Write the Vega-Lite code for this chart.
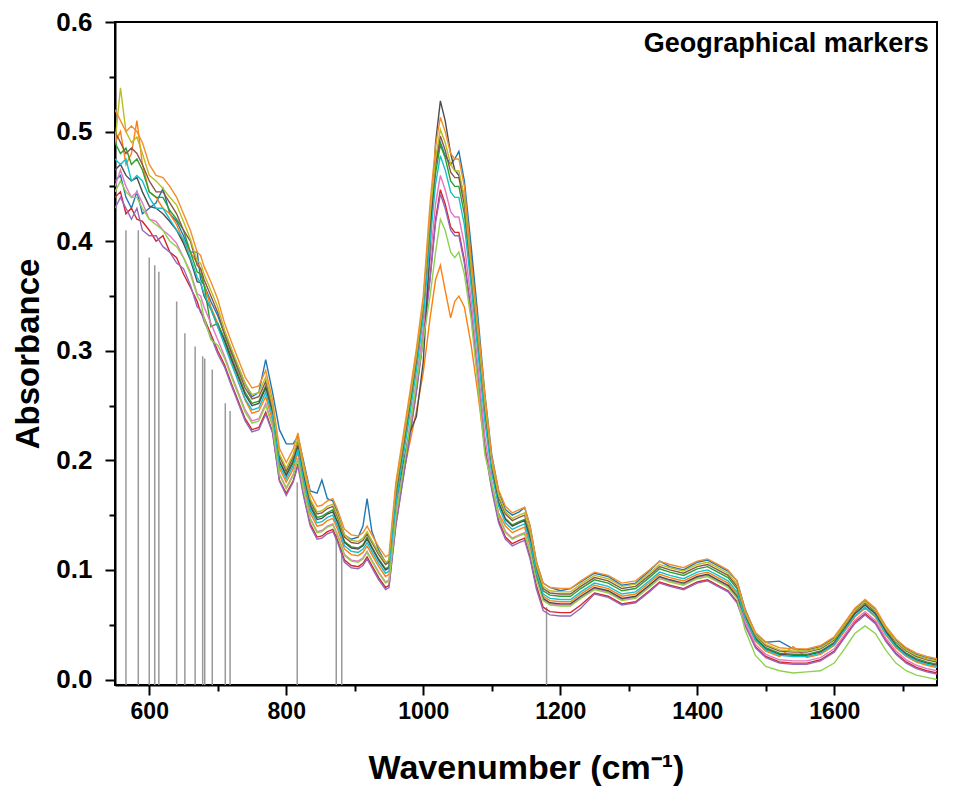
{
"$schema": "https://vega.github.io/schema/vega-lite/v6.json",
"width": 822, "height": 663,
"autosize": {"type": "none"},
"padding": {"left": 115, "top": 22, "right": 16, "bottom": 117},
"background": "white",
"config": {"view": {"stroke": "black", "strokeWidth": 2}, "font": "Liberation Sans"},
"datasets": {
"markers": [
{"wn":566,"top":0.41},{"wn":584,"top":0.41},{"wn":600,"top":0.385},{"wn":608,"top":0.378},{"wn":614,"top":0.372},{"wn":640,"top":0.345},{"wn":652,"top":0.316},{"wn":667,"top":0.304},{"wn":678,"top":0.295},{"wn":681,"top":0.293},{"wn":692,"top":0.283},{"wn":711,"top":0.252},{"wn":718,"top":0.245},{"wn":816,"top":0.18},{"wn":873,"top":0.133},{"wn":881,"top":0.123},{"wn":1180,"top":0.066}
],
"spectra": [
{"x":550,"A":0.455,"B":0.49,"C":0.49,"D":0.44,"E":0.43,"F":0.5,"G":0.45,"H":0.465,"I":0.49,"J":0.475,"K":0.445,"L":0.52},
{"x":558,"A":0.46,"B":0.5,"C":0.48,"D":0.445,"E":0.44,"F":0.49,"G":0.465,"H":0.47,"I":0.54,"J":0.47,"K":0.455,"L":0.51},
{"x":566,"A":0.44,"B":0.47,"C":0.485,"D":0.425,"E":0.43,"F":0.48,"G":0.45,"H":0.46,"I":0.5,"J":0.475,"K":0.445,"L":0.5},
{"x":574,"A":0.43,"B":0.48,"C":0.47,"D":0.43,"E":0.42,"F":0.485,"G":0.44,"H":0.455,"I":0.49,"J":0.455,"K":0.44,"L":0.505},
{"x":582,"A":0.445,"B":0.51,"C":0.475,"D":0.42,"E":0.43,"F":0.48,"G":0.445,"H":0.458,"I":0.495,"J":0.46,"K":0.44,"L":0.5},
{"x":590,"A":0.425,"B":0.47,"C":0.465,"D":0.418,"E":0.41,"F":0.47,"G":0.435,"H":0.445,"I":0.48,"J":0.455,"K":0.43,"L":0.49},
{"x":600,"A":0.43,"B":0.445,"C":0.445,"D":0.41,"E":0.405,"F":0.455,"G":0.42,"H":0.432,"I":0.46,"J":0.44,"K":0.42,"L":0.47},
{"x":610,"A":0.435,"B":0.44,"C":0.44,"D":0.4,"E":0.405,"F":0.445,"G":0.418,"H":0.43,"I":0.455,"J":0.43,"K":0.415,"L":0.46},
{"x":620,"A":0.448,"B":0.43,"C":0.44,"D":0.405,"E":0.395,"F":0.445,"G":0.41,"H":0.425,"I":0.448,"J":0.43,"K":0.41,"L":0.458},
{"x":630,"A":0.425,"B":0.425,"C":0.428,"D":0.39,"E":0.39,"F":0.435,"G":0.405,"H":0.418,"I":0.44,"J":0.42,"K":0.4,"L":0.45},
{"x":640,"A":0.418,"B":0.415,"C":0.42,"D":0.385,"E":0.38,"F":0.425,"G":0.398,"H":0.41,"I":0.433,"J":0.41,"K":0.395,"L":0.44},
{"x":650,"A":0.405,"B":0.4,"C":0.41,"D":0.37,"E":0.375,"F":0.41,"G":0.385,"H":0.398,"I":0.418,"J":0.402,"K":0.385,"L":0.425},
{"x":660,"A":0.39,"B":0.39,"C":0.39,"D":0.358,"E":0.36,"F":0.4,"G":0.372,"H":0.383,"I":0.402,"J":0.385,"K":0.37,"L":0.41},
{"x":670,"A":0.39,"B":0.38,"C":0.372,"D":0.345,"E":0.34,"F":0.378,"G":0.352,"H":0.363,"I":0.382,"J":0.367,"K":0.35,"L":0.39},
{"x":675,"A":0.365,"B":0.375,"C":0.37,"D":0.335,"E":0.337,"F":0.375,"G":0.35,"H":0.362,"I":0.38,"J":0.362,"K":0.345,"L":0.387},
{"x":680,"A":0.36,"B":0.36,"C":0.36,"D":0.33,"E":0.327,"F":0.365,"G":0.34,"H":0.35,"I":0.37,"J":0.352,"K":0.33,"L":0.377},
{"x":690,"A":0.345,"B":0.34,"C":0.322,"D":0.315,"E":0.313,"F":0.35,"G":0.325,"H":0.338,"I":0.355,"J":0.338,"K":0.31,"L":0.363},
{"x":700,"A":0.332,"B":0.325,"C":0.325,"D":0.3,"E":0.297,"F":0.335,"G":0.31,"H":0.322,"I":0.34,"J":0.322,"K":0.305,"L":0.347},
{"x":710,"A":0.315,"B":0.308,"C":0.311,"D":0.287,"E":0.285,"F":0.315,"G":0.295,"H":0.309,"I":0.319,"J":0.305,"K":0.293,"L":0.325},
{"x":720,"A":0.3,"B":0.29,"C":0.294,"D":0.27,"E":0.268,"F":0.298,"G":0.278,"H":0.292,"I":0.302,"J":0.288,"K":0.276,"L":0.308},
{"x":730,"A":0.285,"B":0.272,"C":0.278,"D":0.254,"E":0.252,"F":0.282,"G":0.262,"H":0.276,"I":0.286,"J":0.272,"K":0.26,"L":0.292},
{"x":740,"A":0.27,"B":0.255,"C":0.262,"D":0.238,"E":0.236,"F":0.266,"G":0.246,"H":0.26,"I":0.27,"J":0.256,"K":0.244,"L":0.276},
{"x":750,"A":0.258,"B":0.243,"C":0.252,"D":0.228,"E":0.226,"F":0.256,"G":0.236,"H":0.25,"I":0.26,"J":0.246,"K":0.234,"L":0.266},
{"x":760,"A":0.262,"B":0.245,"C":0.254,"D":0.23,"E":0.228,"F":0.258,"G":0.238,"H":0.252,"I":0.262,"J":0.248,"K":0.236,"L":0.268},
{"x":770,"A":0.292,"B":0.258,"C":0.268,"D":0.244,"E":0.242,"F":0.272,"G":0.252,"H":0.266,"I":0.276,"J":0.262,"K":0.25,"L":0.282},
{"x":780,"A":0.262,"B":0.236,"C":0.245,"D":0.226,"E":0.225,"F":0.248,"G":0.232,"H":0.243,"I":0.25,"J":0.24,"K":0.231,"L":0.255},
{"x":790,"A":0.228,"B":0.193,"C":0.2,"D":0.182,"E":0.181,"F":0.204,"G":0.188,"H":0.199,"I":0.206,"J":0.196,"K":0.187,"L":0.211},
{"x":800,"A":0.215,"B":0.18,"C":0.187,"D":0.17,"E":0.168,"F":0.19,"G":0.175,"H":0.186,"I":0.193,"J":0.183,"K":0.174,"L":0.198},
{"x":810,"A":0.215,"B":0.192,"C":0.2,"D":0.181,"E":0.18,"F":0.203,"G":0.187,"H":0.198,"I":0.205,"J":0.195,"K":0.186,"L":0.21},
{"x":817,"A":0.222,"B":0.207,"C":0.214,"D":0.197,"E":0.195,"F":0.218,"G":0.202,"H":0.213,"I":0.22,"J":0.21,"K":0.201,"L":0.225},
{"x":825,"A":0.2,"B":0.18,"C":0.187,"D":0.17,"E":0.168,"F":0.19,"G":0.175,"H":0.186,"I":0.193,"J":0.183,"K":0.174,"L":0.198},
{"x":835,"A":0.172,"B":0.152,"C":0.16,"D":0.142,"E":0.14,"F":0.163,"G":0.147,"H":0.158,"I":0.165,"J":0.155,"K":0.146,"L":0.17},
{"x":845,"A":0.17,"B":0.14,"C":0.148,"D":0.13,"E":0.128,"F":0.151,"G":0.135,"H":0.146,"I":0.153,"J":0.143,"K":0.134,"L":0.158},
{"x":852,"A":0.182,"B":0.141,"C":0.149,"D":0.131,"E":0.129,"F":0.152,"G":0.136,"H":0.147,"I":0.154,"J":0.144,"K":0.135,"L":0.159},
{"x":860,"A":0.165,"B":0.145,"C":0.152,"D":0.135,"E":0.133,"F":0.156,"G":0.14,"H":0.151,"I":0.158,"J":0.148,"K":0.139,"L":0.163},
{"x":868,"A":0.163,"B":0.147,"C":0.155,"D":0.137,"E":0.135,"F":0.158,"G":0.142,"H":0.153,"I":0.16,"J":0.15,"K":0.141,"L":0.165},
{"x":875,"A":0.152,"B":0.137,"C":0.144,"D":0.127,"E":0.125,"F":0.148,"G":0.132,"H":0.143,"I":0.15,"J":0.14,"K":0.131,"L":0.155},
{"x":885,"A":0.132,"B":0.119,"C":0.126,"D":0.109,"E":0.107,"F":0.13,"G":0.114,"H":0.125,"I":0.132,"J":0.122,"K":0.113,"L":0.137},
{"x":895,"A":0.128,"B":0.114,"C":0.121,"D":0.104,"E":0.102,"F":0.125,"G":0.109,"H":0.12,"I":0.127,"J":0.117,"K":0.108,"L":0.132},
{"x":905,"A":0.13,"B":0.113,"C":0.12,"D":0.103,"E":0.101,"F":0.124,"G":0.108,"H":0.119,"I":0.126,"J":0.116,"K":0.107,"L":0.131},
{"x":912,"A":0.14,"B":0.116,"C":0.123,"D":0.106,"E":0.104,"F":0.127,"G":0.111,"H":0.122,"I":0.129,"J":0.119,"K":0.11,"L":0.134},
{"x":918,"A":0.165,"B":0.122,"C":0.13,"D":0.112,"E":0.11,"F":0.133,"G":0.117,"H":0.128,"I":0.135,"J":0.125,"K":0.116,"L":0.14},
{"x":925,"A":0.135,"B":0.114,"C":0.121,"D":0.104,"E":0.102,"F":0.125,"G":0.109,"H":0.12,"I":0.127,"J":0.117,"K":0.108,"L":0.132},
{"x":935,"A":0.118,"B":0.103,"C":0.11,"D":0.093,"E":0.091,"F":0.114,"G":0.098,"H":0.109,"I":0.116,"J":0.106,"K":0.097,"L":0.121},
{"x":945,"A":0.107,"B":0.094,"C":0.101,"D":0.084,"E":0.082,"F":0.105,"G":0.089,"H":0.1,"I":0.107,"J":0.097,"K":0.088,"L":0.112},
{"x":950,"A":0.108,"B":0.096,"C":0.103,"D":0.086,"E":0.084,"F":0.107,"G":0.091,"H":0.102,"I":0.109,"J":0.099,"K":0.09,"L":0.114},
{"x":960,"A":0.175,"B":0.15,"C":0.166,"D":0.142,"E":0.14,"F":0.17,"G":0.15,"H":0.16,"I":0.174,"J":0.16,"K":0.148,"L":0.18},
{"x":970,"A":0.215,"B":0.185,"C":0.206,"D":0.182,"E":0.18,"F":0.21,"G":0.19,"H":0.195,"I":0.214,"J":0.2,"K":0.188,"L":0.22},
{"x":980,"A":0.255,"B":0.215,"C":0.246,"D":0.222,"E":0.22,"F":0.25,"G":0.23,"H":0.225,"I":0.254,"J":0.24,"K":0.228,"L":0.26},
{"x":990,"A":0.297,"B":0.245,"C":0.288,"D":0.264,"E":0.262,"F":0.292,"G":0.272,"H":0.24,"I":0.296,"J":0.282,"K":0.27,"L":0.302},
{"x":1000,"A":0.345,"B":0.28,"C":0.336,"D":0.312,"E":0.31,"F":0.34,"G":0.32,"H":0.29,"I":0.344,"J":0.33,"K":0.31,"L":0.35},
{"x":1010,"A":0.42,"B":0.33,"C":0.41,"D":0.368,"E":0.365,"F":0.418,"G":0.382,"H":0.395,"I":0.424,"J":0.4,"K":0.35,"L":0.435},
{"x":1018,"A":0.47,"B":0.365,"C":0.462,"D":0.42,"E":0.417,"F":0.47,"G":0.434,"H":0.49,"I":0.476,"J":0.452,"K":0.39,"L":0.487},
{"x":1025,"A":0.49,"B":0.378,"C":0.488,"D":0.447,"E":0.443,"F":0.496,"G":0.46,"H":0.528,"I":0.502,"J":0.478,"K":0.42,"L":0.513},
{"x":1032,"A":0.478,"B":0.355,"C":0.476,"D":0.434,"E":0.43,"F":0.483,"G":0.447,"H":0.51,"I":0.49,"J":0.465,"K":0.41,"L":0.5},
{"x":1040,"A":0.47,"B":0.33,"C":0.455,"D":0.413,"E":0.41,"F":0.463,"G":0.427,"H":0.48,"I":0.47,"J":0.445,"K":0.39,"L":0.48},
{"x":1046,"A":0.475,"B":0.345,"C":0.45,"D":0.408,"E":0.405,"F":0.458,"G":0.422,"H":0.465,"I":0.464,"J":0.44,"K":0.385,"L":0.475},
{"x":1052,"A":0.482,"B":0.35,"C":0.45,"D":0.408,"E":0.405,"F":0.458,"G":0.422,"H":0.46,"I":0.464,"J":0.44,"K":0.39,"L":0.475},
{"x":1060,"A":0.455,"B":0.34,"C":0.425,"D":0.383,"E":0.38,"F":0.433,"G":0.397,"H":0.44,"I":0.44,"J":0.415,"K":0.37,"L":0.45},
{"x":1070,"A":0.395,"B":0.305,"C":0.365,"D":0.335,"E":0.333,"F":0.371,"G":0.345,"H":0.385,"I":0.375,"J":0.358,"K":0.328,"L":0.383},
{"x":1080,"A":0.33,"B":0.26,"C":0.305,"D":0.275,"E":0.273,"F":0.311,"G":0.285,"H":0.32,"I":0.315,"J":0.298,"K":0.268,"L":0.323},
{"x":1090,"A":0.26,"B":0.21,"C":0.243,"D":0.212,"E":0.21,"F":0.248,"G":0.222,"H":0.255,"I":0.252,"J":0.235,"K":0.205,"L":0.26},
{"x":1100,"A":0.205,"B":0.178,"C":0.192,"D":0.175,"E":0.173,"F":0.196,"G":0.18,"H":0.191,"I":0.198,"J":0.188,"K":0.179,"L":0.203},
{"x":1110,"A":0.172,"B":0.152,"C":0.162,"D":0.145,"E":0.143,"F":0.166,"G":0.15,"H":0.161,"I":0.168,"J":0.158,"K":0.149,"L":0.173},
{"x":1120,"A":0.155,"B":0.14,"C":0.147,"D":0.13,"E":0.128,"F":0.151,"G":0.135,"H":0.146,"I":0.153,"J":0.143,"K":0.134,"L":0.158},
{"x":1130,"A":0.15,"B":0.134,"C":0.141,"D":0.124,"E":0.122,"F":0.145,"G":0.129,"H":0.14,"I":0.147,"J":0.137,"K":0.128,"L":0.152},
{"x":1140,"A":0.153,"B":0.137,"C":0.144,"D":0.127,"E":0.125,"F":0.148,"G":0.132,"H":0.143,"I":0.15,"J":0.14,"K":0.131,"L":0.155},
{"x":1148,"A":0.157,"B":0.139,"C":0.146,"D":0.129,"E":0.127,"F":0.15,"G":0.134,"H":0.145,"I":0.152,"J":0.142,"K":0.133,"L":0.157},
{"x":1156,"A":0.14,"B":0.122,"C":0.13,"D":0.112,"E":0.11,"F":0.133,"G":0.117,"H":0.128,"I":0.135,"J":0.125,"K":0.116,"L":0.14},
{"x":1165,"A":0.108,"B":0.096,"C":0.101,"D":0.086,"E":0.083,"F":0.103,"G":0.093,"H":0.094,"I":0.105,"J":0.098,"K":0.092,"L":0.108},
{"x":1175,"A":0.088,"B":0.076,"C":0.081,"D":0.066,"E":0.063,"F":0.083,"G":0.073,"H":0.074,"I":0.085,"J":0.078,"K":0.072,"L":0.088},
{"x":1185,"A":0.084,"B":0.072,"C":0.077,"D":0.062,"E":0.059,"F":0.079,"G":0.069,"H":0.07,"I":0.081,"J":0.074,"K":0.068,"L":0.084},
{"x":1200,"A":0.081,"B":0.071,"C":0.076,"D":0.061,"E":0.058,"F":0.078,"G":0.068,"H":0.069,"I":0.08,"J":0.073,"K":0.067,"L":0.083},
{"x":1215,"A":0.083,"B":0.071,"C":0.076,"D":0.061,"E":0.058,"F":0.078,"G":0.068,"H":0.069,"I":0.08,"J":0.073,"K":0.067,"L":0.083},
{"x":1230,"A":0.089,"B":0.078,"C":0.083,"D":0.068,"E":0.065,"F":0.085,"G":0.075,"H":0.076,"I":0.087,"J":0.08,"K":0.074,"L":0.09},
{"x":1250,"A":0.097,"B":0.086,"C":0.091,"D":0.079,"E":0.078,"F":0.093,"G":0.083,"H":0.084,"I":0.095,"J":0.088,"K":0.082,"L":0.098},
{"x":1270,"A":0.094,"B":0.083,"C":0.088,"D":0.076,"E":0.075,"F":0.09,"G":0.08,"H":0.081,"I":0.092,"J":0.085,"K":0.079,"L":0.095},
{"x":1290,"A":0.086,"B":0.076,"C":0.081,"D":0.069,"E":0.068,"F":0.083,"G":0.073,"H":0.074,"I":0.085,"J":0.078,"K":0.072,"L":0.088},
{"x":1310,"A":0.088,"B":0.078,"C":0.083,"D":0.071,"E":0.07,"F":0.085,"G":0.075,"H":0.076,"I":0.087,"J":0.08,"K":0.074,"L":0.09},
{"x":1330,"A":0.099,"B":0.088,"C":0.093,"D":0.081,"E":0.08,"F":0.095,"G":0.085,"H":0.086,"I":0.097,"J":0.09,"K":0.084,"L":0.1},
{"x":1345,"A":0.108,"B":0.096,"C":0.101,"D":0.089,"E":0.088,"F":0.103,"G":0.093,"H":0.094,"I":0.105,"J":0.098,"K":0.092,"L":0.108},
{"x":1360,"A":0.103,"B":0.093,"C":0.098,"D":0.086,"E":0.085,"F":0.1,"G":0.09,"H":0.091,"I":0.102,"J":0.095,"K":0.089,"L":0.105},
{"x":1380,"A":0.1,"B":0.09,"C":0.095,"D":0.083,"E":0.082,"F":0.097,"G":0.087,"H":0.088,"I":0.099,"J":0.092,"K":0.086,"L":0.102},
{"x":1400,"A":0.107,"B":0.096,"C":0.101,"D":0.089,"E":0.088,"F":0.103,"G":0.093,"H":0.094,"I":0.105,"J":0.098,"K":0.092,"L":0.108},
{"x":1415,"A":0.109,"B":0.098,"C":0.103,"D":0.091,"E":0.09,"F":0.105,"G":0.095,"H":0.096,"I":0.107,"J":0.1,"K":0.094,"L":0.11},
{"x":1430,"A":0.104,"B":0.093,"C":0.098,"D":0.086,"E":0.085,"F":0.1,"G":0.09,"H":0.091,"I":0.102,"J":0.095,"K":0.089,"L":0.105},
{"x":1445,"A":0.099,"B":0.088,"C":0.093,"D":0.081,"E":0.08,"F":0.095,"G":0.085,"H":0.086,"I":0.097,"J":0.09,"K":0.084,"L":0.1},
{"x":1458,"A":0.09,"B":0.078,"C":0.083,"D":0.071,"E":0.07,"F":0.085,"G":0.075,"H":0.076,"I":0.087,"J":0.08,"K":0.074,"L":0.09},
{"x":1470,"A":0.064,"B":0.055,"C":0.058,"D":0.05,"E":0.049,"F":0.06,"G":0.052,"H":0.057,"I":0.061,"J":0.056,"K":0.045,"L":0.063},
{"x":1485,"A":0.042,"B":0.035,"C":0.038,"D":0.03,"E":0.029,"F":0.04,"G":0.032,"H":0.037,"I":0.041,"J":0.036,"K":0.022,"L":0.043},
{"x":1500,"A":0.034,"B":0.026,"C":0.029,"D":0.021,"E":0.02,"F":0.031,"G":0.023,"H":0.028,"I":0.032,"J":0.027,"K":0.012,"L":0.034},
{"x":1520,"A":0.035,"B":0.021,"C":0.024,"D":0.016,"E":0.015,"F":0.026,"G":0.018,"H":0.023,"I":0.027,"J":0.022,"K":0.008,"L":0.029},
{"x":1540,"A":0.028,"B":0.03,"C":0.023,"D":0.015,"E":0.014,"F":0.025,"G":0.017,"H":0.022,"I":0.026,"J":0.021,"K":0.006,"L":0.028},
{"x":1560,"A":0.027,"B":0.02,"C":0.023,"D":0.015,"E":0.014,"F":0.025,"G":0.017,"H":0.022,"I":0.026,"J":0.021,"K":0.007,"L":0.028},
{"x":1580,"A":0.03,"B":0.023,"C":0.026,"D":0.018,"E":0.017,"F":0.028,"G":0.02,"H":0.025,"I":0.029,"J":0.024,"K":0.008,"L":0.031},
{"x":1600,"A":0.038,"B":0.031,"C":0.034,"D":0.026,"E":0.025,"F":0.036,"G":0.028,"H":0.033,"I":0.037,"J":0.032,"K":0.015,"L":0.039},
{"x":1615,"A":0.051,"B":0.044,"C":0.047,"D":0.039,"E":0.038,"F":0.049,"G":0.041,"H":0.046,"I":0.05,"J":0.045,"K":0.028,"L":0.052},
{"x":1630,"A":0.064,"B":0.057,"C":0.06,"D":0.052,"E":0.051,"F":0.062,"G":0.054,"H":0.06,"I":0.063,"J":0.058,"K":0.042,"L":0.065},
{"x":1645,"A":0.072,"B":0.065,"C":0.068,"D":0.06,"E":0.059,"F":0.07,"G":0.062,"H":0.068,"I":0.071,"J":0.066,"K":0.049,"L":0.073},
{"x":1660,"A":0.064,"B":0.057,"C":0.06,"D":0.052,"E":0.051,"F":0.062,"G":0.054,"H":0.06,"I":0.063,"J":0.058,"K":0.042,"L":0.065},
{"x":1675,"A":0.048,"B":0.041,"C":0.044,"D":0.036,"E":0.035,"F":0.046,"G":0.038,"H":0.044,"I":0.047,"J":0.042,"K":0.027,"L":0.049},
{"x":1690,"A":0.036,"B":0.029,"C":0.032,"D":0.024,"E":0.023,"F":0.034,"G":0.026,"H":0.031,"I":0.035,"J":0.03,"K":0.015,"L":0.037},
{"x":1705,"A":0.028,"B":0.021,"C":0.024,"D":0.016,"E":0.015,"F":0.026,"G":0.018,"H":0.023,"I":0.027,"J":0.022,"K":0.008,"L":0.029},
{"x":1720,"A":0.023,"B":0.016,"C":0.019,"D":0.011,"E":0.01,"F":0.021,"G":0.013,"H":0.018,"I":0.022,"J":0.017,"K":0.004,"L":0.024},
{"x":1735,"A":0.02,"B":0.013,"C":0.016,"D":0.008,"E":0.007,"F":0.018,"G":0.01,"H":0.015,"I":0.019,"J":0.014,"K":0.002,"L":0.021},
{"x":1750,"A":0.018,"B":0.011,"C":0.014,"D":0.006,"E":0.005,"F":0.016,"G":0.008,"H":0.013,"I":0.017,"J":0.012,"K":0.0,"L":0.019}
]
},
"layer": [
{
"data": {"name": "markers"},
"mark": {"type": "rule", "color": "#999999", "strokeWidth": 1.5},
"encoding": {
"x": {"field": "wn", "type": "quantitative", "scale": {"domain": [550, 1750], "nice": false, "zero": false},
"axis": {"title": "Wavenumber (cm⁻¹)", "values": [600,700,800,900,1000,1100,1200,1300,1400,1500,1600,1700],
"labelExpr": "datum.value % 200 == 0 ? format(datum.value, 'd') : ''",
"tickSize": {"condition": {"test": "datum.value % 200 == 0", "value": 10}, "value": 6},
"tickWidth": 2, "tickColor": "black", "domainColor": "black", "domainWidth": 2, "grid": false,
"labelFont": "Liberation Sans", "labelFontWeight": "bold", "labelFontSize": 23, "labelColor": "black", "labelPadding": 5, "labelOverlap": false, "labelFlush": false,
"titleFont": "Liberation Sans", "titleFontWeight": "bold", "titleFontSize": 34, "titleColor": "black", "titlePadding": 28}},
"y": {"field": "top", "type": "quantitative", "scale": {"domain": [-0.005, 0.6], "nice": false, "zero": false},
"axis": {"title": "Absorbance", "values": [0,0.05,0.1,0.15,0.2,0.25,0.3,0.35,0.4,0.45,0.5,0.55,0.6],
"labelExpr": "round(datum.value*100) % 10 == 0 ? format(datum.value, '.1f') : ''",
"tickSize": {"condition": {"test": "round(datum.value*100) % 10 == 0", "value": 10}, "value": 6},
"tickWidth": 2, "tickColor": "black", "domainColor": "black", "domainWidth": 2, "grid": false,
"labelFont": "Liberation Sans", "labelFontWeight": "bold", "labelFontSize": 26, "labelColor": "black", "labelPadding": 13, "labelOverlap": false, "labelFlush": false,
"titleFont": "Liberation Sans", "titleFontWeight": "bold", "titleFontSize": 33, "titleColor": "black", "titlePadding": 10}},
"y2": {"datum": -0.005}
}
},
{
"data": {"name": "spectra"},
"transform": [{"fold": ["A","B","C","D","E","F","G","H","I","J","K","L"], "as": ["s", "v"]}],
"mark": {"type": "line", "strokeWidth": 1.4, "clip": true},
"encoding": {
"x": {"field": "x", "type": "quantitative", "title": "Wavenumber (cm⁻¹)"},
"y": {"field": "v", "type": "quantitative", "title": "Absorbance"},
"color": {"field": "s", "type": "nominal", "legend": null,
"scale": {"domain": ["A","B","C","D","E","F","G","H","I","J","K","L"],
"range": ["#1f77b4","#ff7f0e","#2ca02c","#d62728","#9467bd","#8c564b","#e377c2","#4d4d4d","#bcbd22","#17becf","#8fd14f","#f28e2b"]}}
}
},
{
"data": {"values": [{"label": "Geographical markers"}]},
"mark": {"type": "text", "align": "right", "baseline": "top", "font": "Liberation Sans", "fontWeight": "bold", "fontSize": 27, "color": "black"},
"encoding": {
"x": {"datum": 1738, "type": "quantitative", "title": "Wavenumber (cm⁻¹)"},
"y": {"datum": 0.592, "type": "quantitative", "title": "Absorbance"},
"text": {"field": "label"}
}
}
]
}
